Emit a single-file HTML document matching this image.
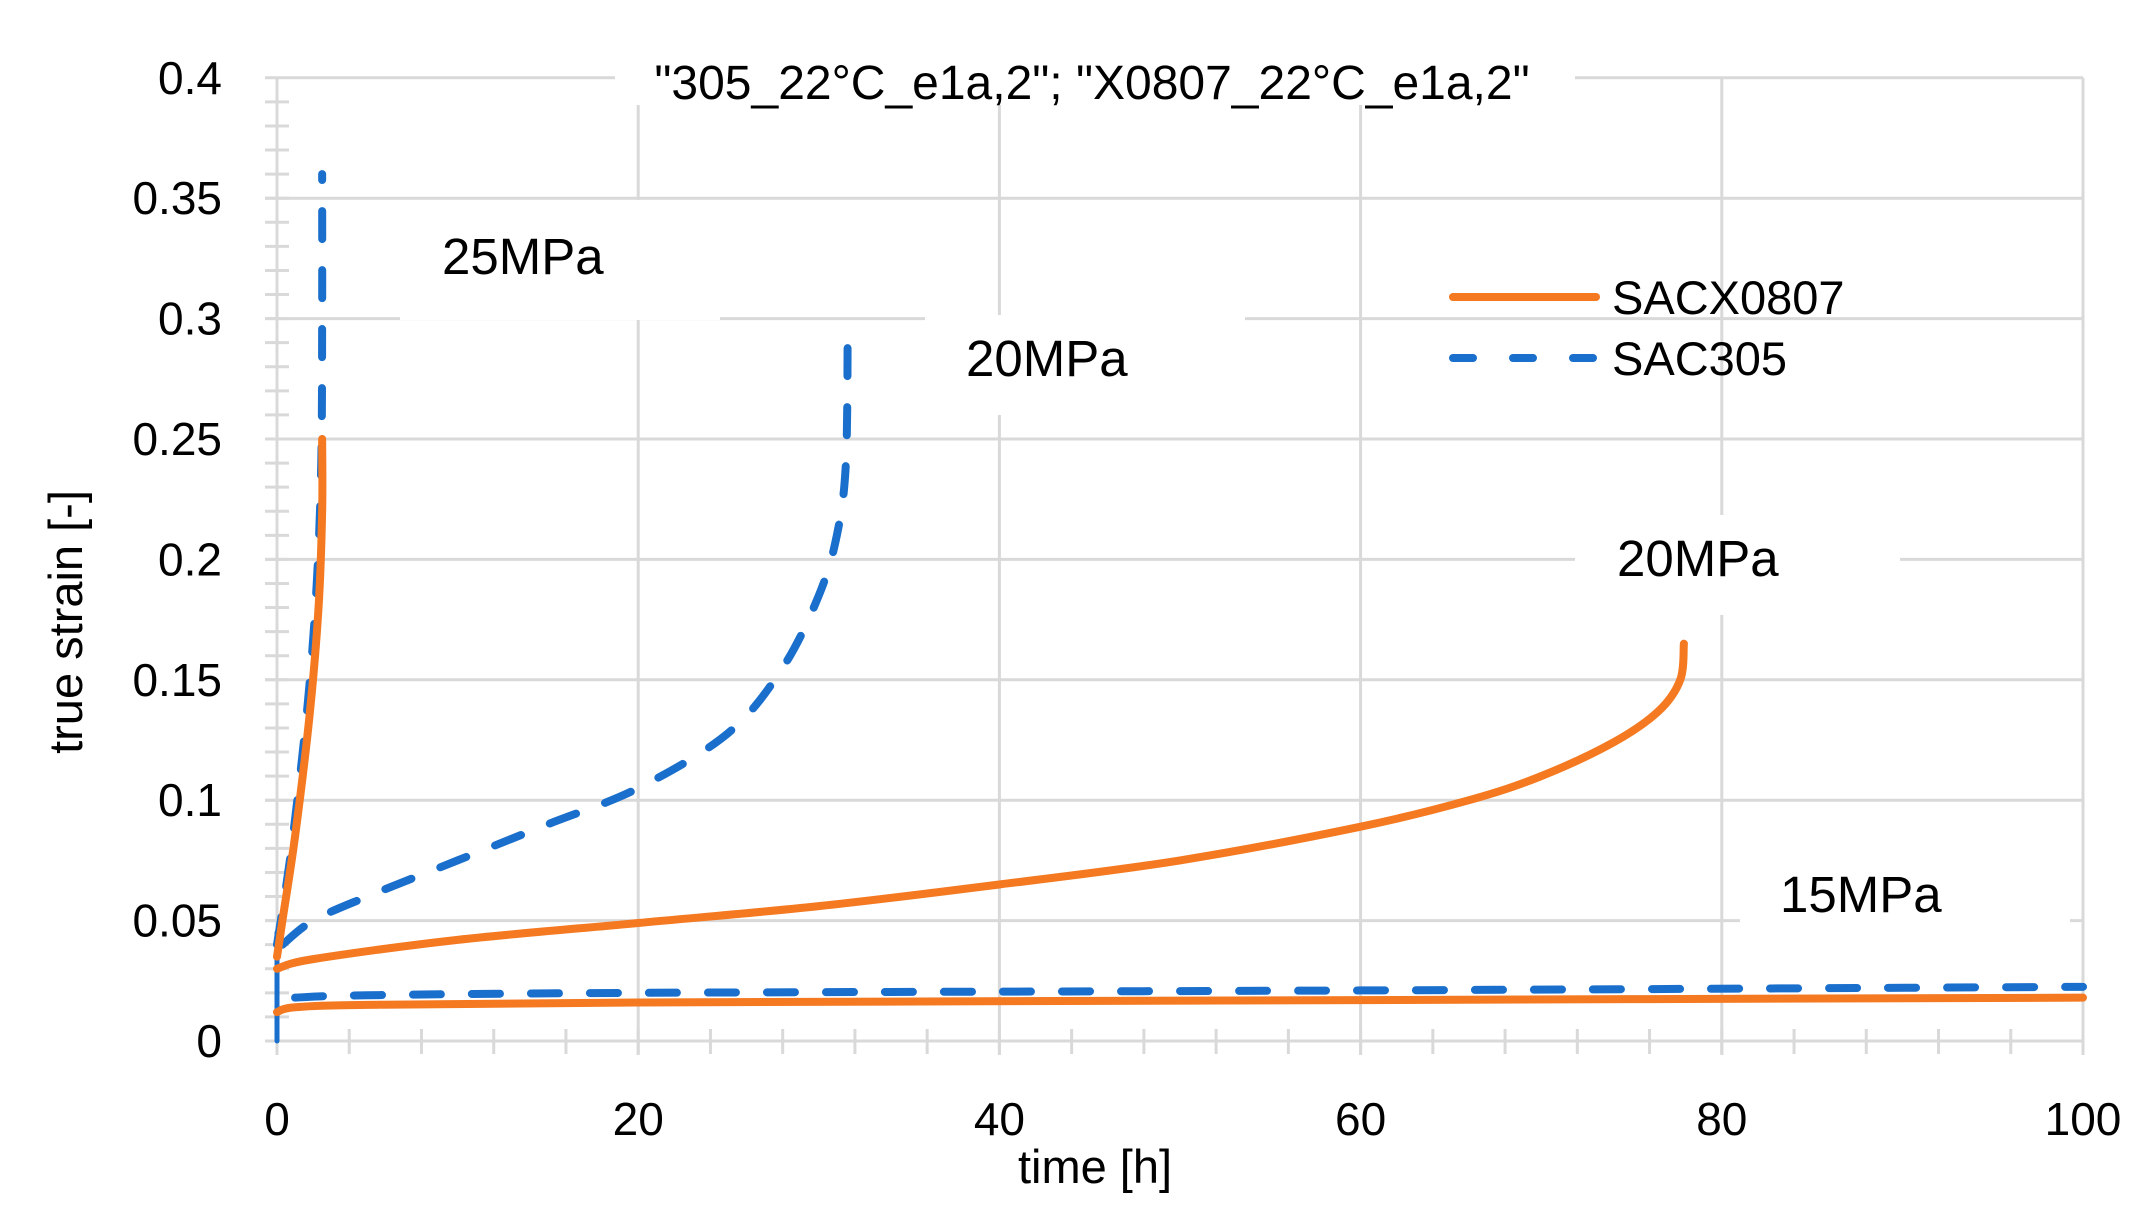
<!DOCTYPE html>
<html><head><meta charset="utf-8"><style>
html,body{margin:0;padding:0;background:#fff;}
svg{display:block;}
text{font-family:"Liberation Sans",sans-serif;fill:#000;}
</style></head><body>
<svg id="s" width="2156" height="1218" viewBox="0 0 2156 1218" xmlns="http://www.w3.org/2000/svg">
<g id="grid" stroke="#d9d9d9" stroke-width="3"></g>
<g id="lbls"></g>
<g id="data" fill="none" stroke-linecap="round" stroke-linejoin="round"></g>
<g id="txt"></g>
</svg>
<script>
const NS="http://www.w3.org/2000/svg";
const X=t=>277+18.06*t, Y=s=>1041-2408*s;
function el(p,tag,a,txt){const e=document.createElementNS(NS,tag);for(const k in a)e.setAttribute(k,a[k]);if(txt!==undefined)e.textContent=txt;document.getElementById(p).appendChild(e);return e;}
for(let i=1;i<=8;i++){const y=Y(i*0.05);el("grid","line",{x1:265,x2:2083,y1:y,y2:y});}
for(let i=1;i<=5;i++){const x=X(i*20);el("grid","line",{x1:x,x2:x,y1:Y(0.4),y2:1055});}
el("grid","line",{x1:277,x2:277,y1:Y(0.4),y2:1055});
el("grid","line",{x1:265,x2:2083,y1:Y(0),y2:Y(0)});
for(let i=1;i<40;i++){const y=Y(i*0.01);el("grid","line",{x1:265,x2:289,y1:y,y2:y});}
for(let i=1;i<25;i++){const x=X(i*4);el("grid","line",{x1:x,x2:x,y1:1029,y2:1054});}
const yl=["0","0.05","0.1","0.15","0.2","0.25","0.3","0.35","0.4"];
yl.forEach((l,i)=>el("lbls","text",{x:222,y:Y(i*0.05)+16,"font-size":46,"text-anchor":"end"},l));
[0,20,40,60,80,100].forEach(v=>el("lbls","text",{x:X(v),y:1135,"font-size":46,"text-anchor":"middle"},String(v)));
el("lbls","text",{x:1095,y:1183,"font-size":47,"text-anchor":"middle"},"time [h]");
el("lbls","text",{x:0,y:0,"font-size":47,"text-anchor":"middle",transform:"translate(82,622) rotate(-90)"},"true strain [-]");
function lab(x,y,w,h){el("txt","rect",{x:x,y:y,width:w,height:h,fill:"#fff"});}
lab(615,55,960,50);lab(400,200,320,120);lab(925,315,320,100);lab(1575,515,325,100);lab(1740,850,330,100);
function smooth(pts){let d="M"+X(pts[0][0])+","+Y(pts[0][1]);const P=pts.map(p=>[X(p[0]),Y(p[1])]);
for(let i=0;i<P.length-1;i++){const p0=P[i-1]||P[i],p1=P[i],p2=P[i+1],p3=P[i+2]||p2;
const c1=[p1[0]+(p2[0]-p0[0])/6,p1[1]+(p2[1]-p0[1])/6],c2=[p2[0]-(p3[0]-p1[0])/6,p2[1]-(p3[1]-p1[1])/6];
d+=` C${c1[0]},${c1[1]} ${c2[0]},${c2[1]} ${p2[0]},${p2[1]}`;}return d;}
const OR="#f47920",BL="#1a6fcc";
function line(pts,c,dash){const a={d:smooth(pts),stroke:c,"stroke-width":8};if(dash)a["stroke-dasharray"]="28 31";el("data","path",a);}
el("data","line",{x1:X(0),x2:X(0),y1:Y(0),y2:Y(0.045),stroke:BL,"stroke-width":5});
line([[0,0.012],[1,0.014],[5,0.015],[20,0.016],[60,0.017],[100,0.018]],OR);
line([[1,0.018],[5,0.019],[20,0.02],[60,0.021],[100,0.0225]],BL,true);
line([[0,0.03],[2,0.034],[10,0.042],[20,0.049],[30,0.056],[40,0.065],[50,0.075],[60,0.089],[66,0.1],[70,0.11],[74,0.124],[76.5,0.137],[77.7,0.15],[77.9,0.165]],OR);
line([[0.3,0.04],[2,0.05],[5,0.06],[10,0.075],[15,0.09],[20,0.105],[25,0.128],[28,0.155],[30,0.185],[31,0.21],[31.5,0.24],[31.6,0.295]],BL,true);
line([[0,0.04],[0.8,0.08],[1.7,0.14],[2.2,0.19],[2.45,0.24],[2.5,0.3],[2.5,0.36]],BL,true);
line([[0,0.035],[0.3,0.05],[1,0.085],[1.8,0.135],[2.3,0.18],[2.5,0.22],[2.5,0.25]],OR);
el("txt","text",{x:1092,y:99,"font-size":48,"text-anchor":"middle"},"\"305_22°C_e1a,2\"; \"X0807_22°C_e1a,2\"");
el("txt","text",{x:442,y:274,"font-size":51},"25MPa");
el("txt","text",{x:966,y:376,"font-size":51},"20MPa");
el("txt","text",{x:1617,y:576,"font-size":51},"20MPa");
el("txt","text",{x:1780,y:912,"font-size":51},"15MPa");
el("txt","line",{x1:1453,x2:1596,y1:297,y2:297,stroke:OR,"stroke-width":8,"stroke-linecap":"round"});
el("txt","line",{x1:1453,x2:1596,y1:358,y2:358,stroke:BL,"stroke-width":8,"stroke-linecap":"round","stroke-dasharray":"20 40"});
el("txt","text",{x:1612,y:314,"font-size":47},"SACX0807");
el("txt","text",{x:1612,y:375,"font-size":47},"SAC305");
</script>
</body></html>
